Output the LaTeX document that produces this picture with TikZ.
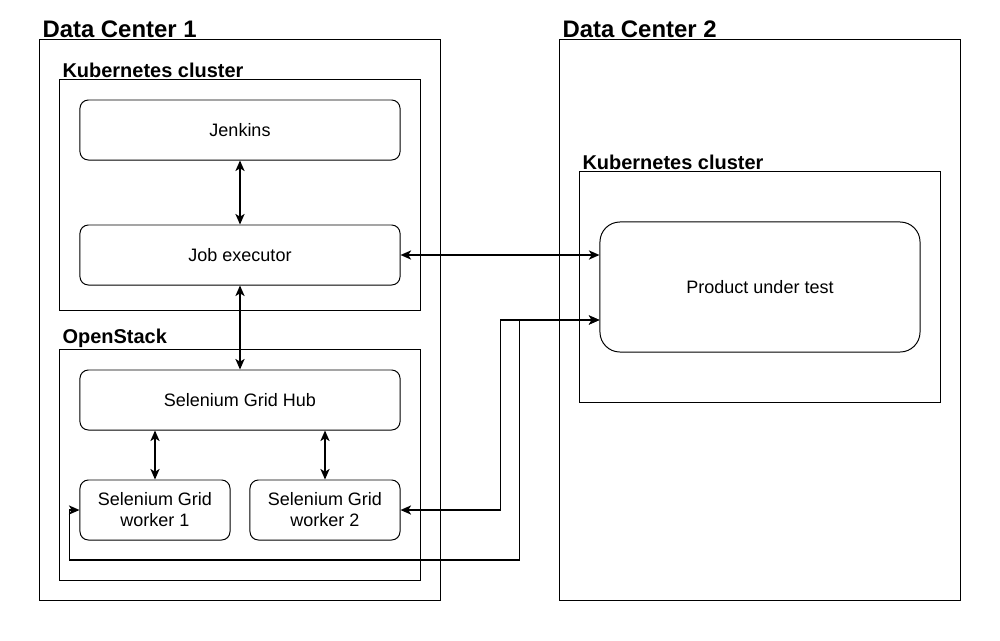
\documentclass[tikz,border=0pt]{standalone}
\usepackage{fontspec}
\setmainfont{Liberation Sans}
\usepackage{tikz}
\usetikzlibrary{arrows.meta, positioning, calc}

\begin{document}
\begin{tikzpicture}[
    x=0.025cm, y=-0.025cm,
    site/.style={rectangle, draw=black, line width=0.7pt, minimum width=10cm, minimum height=14cm},
    group/.style={rectangle, draw=black, line width=0.7pt, minimum width=9cm, minimum height=5.75cm},
    block/.style={rectangle, rounded corners=6pt, draw=black, line width=0.7pt, minimum width=8cm, minimum height=1.5cm, align=center, font=\fontsize{12.8pt}{15pt}\selectfont},
    worker/.style={block, minimum width=3.75cm},
    title/.style={anchor=south west, inner sep=1pt, xshift=1pt, font=\fontsize{17pt}{20pt}\selectfont\bfseries},
    subtitle/.style={anchor=south west, inner sep=1pt, xshift=1pt, font=\fontsize{14.2pt}{17pt}\selectfont\bfseries},
    arrow/.style={{Stealth[length=7.5pt, width=6.5pt, inset=2pt]}-{Stealth[length=7.5pt, width=6.5pt, inset=2pt]}, line width=1.3pt},
]
\useasboundingbox (0,0) rectangle (1000,640);

% Data centers
\node[site, label={[title]north west:Data Center 1}] (dc1) at (240,320) {};
\node[site, label={[title]north west:Data Center 2}] (dc2) at (760,320) {};

% Clusters
\node[group, label={[subtitle]north west:Kubernetes cluster}] (kube1) at (240,195) {};
\node[group, label={[subtitle]north west:OpenStack}] (stack) at (240,465) {};
\node[group, label={[subtitle]north west:Kubernetes cluster}] (kube2) at (760,287) {};

% Components
\node[block] (jenkins) at (240,130) {Jenkins};
\node[block] (job) at (240,255) {Job executor};
\node[block] (hub) at (240,400) {Selenium Grid Hub};
\node[worker] (w1) at (155,510) {Selenium Grid\\worker 1};
\node[worker] (w2) at (325,510) {Selenium Grid\\worker 2};
\node[block, rounded corners=0.5cm, minimum height=3.25cm] (prod) at (760,287) {Product under test};

\coordinate (pin) at (prod.west |- 0,320);

% Arrows
\draw[arrow] (jenkins.south) -- (job.north);
\draw[arrow] (job.south) -- (hub.north);
\draw[arrow] (hub.south -| w1.north) -- (w1.north);
\draw[arrow] (hub.south -| w2.north) -- (w2.north);
\draw[arrow] (job.east) -- (job.east -| prod.west);
\draw[arrow] (w2.east) -- ++(100,0) |- (pin);
\draw[arrow] (w1.west) -- ++(-10,0) -- ++(0,50) -- ++(450,0) |- (pin);

\end{tikzpicture}
\end{document}
